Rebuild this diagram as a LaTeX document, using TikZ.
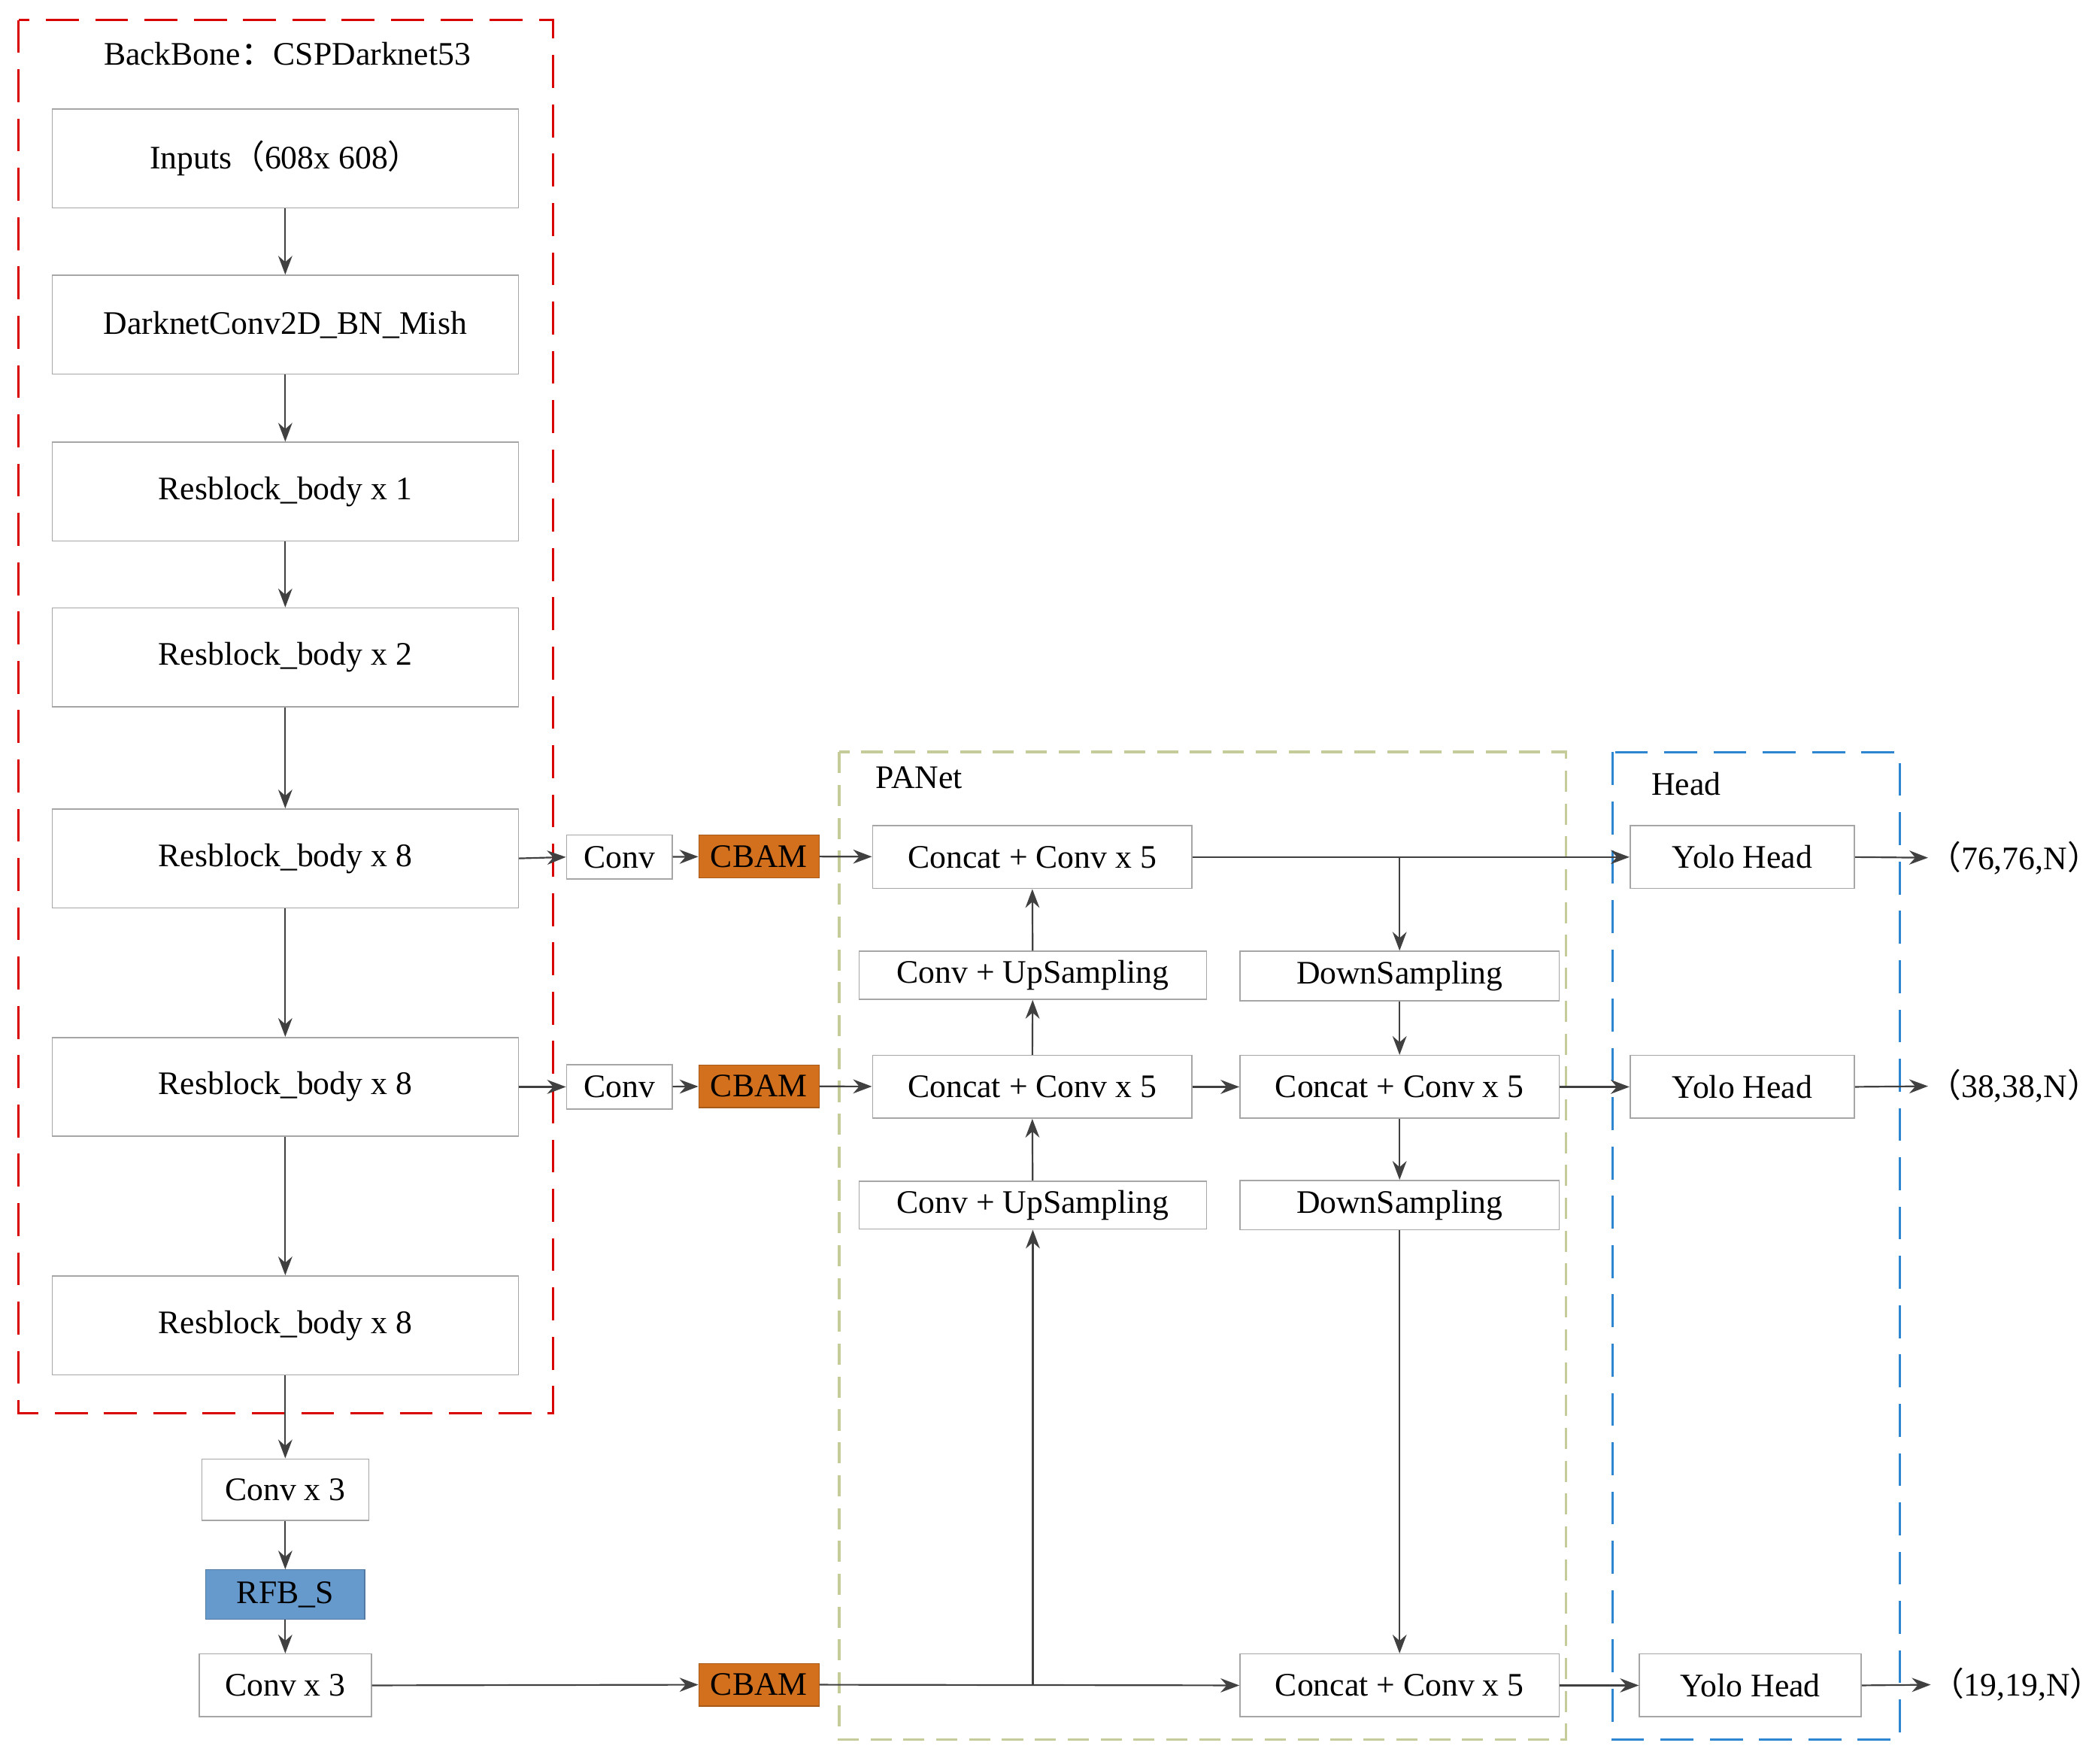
\documentclass[tikz,border=0pt]{standalone}
\usepackage{fontspec}
\setmainfont{Liberation Serif}
\newfontfamily\cjk{Noto Sans CJK SC}
\usetikzlibrary{arrows.meta}
\definecolor{cbamc}{HTML}{D2701E}
\definecolor{rfbc}{HTML}{6699CC}
\definecolor{panc}{HTML}{C5CC9A}
\definecolor{headc}{HTML}{2F86D0}
\begin{document}
\begin{tikzpicture}[x=0.02cm,y=-0.02cm,
  font=\fontsize{14}{16}\selectfont,
  box/.style={draw=black!35,line width=0.5pt,fill=white,inner sep=0pt},
  big/.style={box,minimum width=6.98cm,minimum height=1.48cm},
  cbam/.style={fill=cbamc,draw=cbamc!80!black,minimum width=1.8cm,minimum height=0.64cm,inner sep=0pt},
  cat/.style={box,minimum width=4.78cm,minimum height=0.94cm},
  arr/.style={draw=black!75,line width=0.7pt,-{Stealth[length=8pt,width=6pt]}},
  ln/.style={draw=black!75,line width=0.7pt}]
\useasboundingbox (0,0) rectangle (1568,1320);
% groups
\draw[red!85!black,dashed,dash pattern=on 14pt off 7pt,line width=1pt] (14,15) rectangle (414,1058);
\draw[panc,dashed,dash pattern=on 9pt off 5pt,line width=1.2pt] (628,563) rectangle (1172,1302);
\draw[headc,dashed,dash pattern=on 14pt off 7pt,line width=1pt] (1207,563) rectangle (1422,1302);
\node (tb) at (215,40) {BackBone{\cjk ：}CSPDarknet53};
\node (tp) at (688,582) {PANet};
\node (th) at (1262,587) {Head};
% backbone
\node[big] (inp) at (213.5,118.5) {Inputs{\cjk （}608x 608{\cjk ）}};
\node[big] (dark) at (213.5,243) {DarknetConv2D\_BN\_Mish};
\node[big] (r1) at (213.5,368) {Resblock\_body x 1};
\node[big] (r2) at (213.5,492) {Resblock\_body x 2};
\node[big] (r8a) at (213.5,642.5) {Resblock\_body x 8};
\node[big] (r8b) at (213.5,813.5) {Resblock\_body x 8};
\node[big] (r8c) at (213.5,992) {Resblock\_body x 8};
\node[box,minimum width=2.5cm,minimum height=0.92cm] (cx3a) at (213.5,1115) {Conv x 3};
\node[fill=rfbc,draw=rfbc!80!black,minimum width=2.38cm,minimum height=0.74cm,inner sep=0pt] (rfb) at (213.5,1193.5) {RFB\_S};
\node[box,minimum width=2.58cm,minimum height=0.94cm] (cx3b) at (213.5,1261.5) {Conv x 3};
\node[box,minimum width=1.58cm,minimum height=0.66cm] (conva) at (463.5,641.5) {Conv};
\node[box,minimum width=1.58cm,minimum height=0.66cm] (convb) at (463.5,813.5) {Conv};
\node[cbam] (cbama) at (568,641) {CBAM};
\node[cbam] (cbamb) at (568,813) {CBAM};
\node[cbam] (cbamc) at (568,1261) {CBAM};
% PANet
\node[cat] (cc1) at (772.5,641.5) {Concat + Conv x 5};
\node[box,minimum width=5.2cm,minimum height=0.72cm] (up1) at (773,730) {Conv + UpSampling};
\node[cat] (cc2) at (772.5,813.5) {Concat + Conv x 5};
\node[box,minimum width=5.2cm,minimum height=0.72cm] (up2) at (773,902) {Conv + UpSampling};
\node[box,minimum width=4.78cm,minimum height=0.74cm] (dn1) at (1047.5,730.5) {DownSampling};
\node[cat] (cc3) at (1047.5,813.5) {Concat + Conv x 5};
\node[box,minimum width=4.78cm,minimum height=0.74cm] (dn2) at (1047.5,902) {DownSampling};
\node[cat] (cc4) at (1047.5,1261.5) {Concat + Conv x 5};
% heads
\node[box,minimum width=3.36cm,minimum height=0.94cm] (y1) at (1304,641.5) {Yolo Head};
\node[box,minimum width=3.36cm,minimum height=0.94cm] (y2) at (1304,813.5) {Yolo Head};
\node[box,minimum width=3.32cm,minimum height=0.94cm] (y3) at (1310,1261.5) {Yolo Head};
\node[anchor=west,inner sep=0pt] (o1) at (1443,642) {{\cjk （}76,76,N{\cjk ）}\kern-0.5em};
\node[anchor=west,inner sep=0pt] (o2) at (1443,813) {{\cjk （}38,38,N{\cjk ）}\kern-0.5em};
\node[anchor=west,inner sep=0pt] (o3) at (1445,1261) {{\cjk （}19,19,N{\cjk ）}\kern-0.5em};
% arrows
\draw[arr] (inp) -- (dark);
\draw[arr] (dark) -- (r1);
\draw[arr] (r1) -- (r2);
\draw[arr] (r2) -- (r8a);
\draw[arr] (r8a) -- (r8b);
\draw[arr] (r8b) -- (r8c);
\draw[arr] (r8c) -- (cx3a);
\draw[arr] (cx3a) -- (rfb);
\draw[arr] (rfb) -- (cx3b);
\draw[arr] (r8a.east) -- (conva.west);
\draw[arr] (conva) -- (cbama);
\draw[arr] (cbama) -- (cc1);
\draw[arr] (r8b.east) -- (convb.west);
\draw[arr] (convb) -- (cbamb);
\draw[arr] (cbamb) -- (cc2);
\draw[arr] (cx3b.east) -- (cbamc.west);
\draw[arr] (cc1.east) -- (y1.west);
\coordinate (b1) at (1047.5,641.5);
\draw[arr] (b1) -- (dn1.north);
\draw[arr] (dn1) -- (cc3);
\draw[arr] (cc3) -- (dn2);
\draw[arr] (dn2) -- (cc4);
\draw[arr] (up1) -- (cc1);
\draw[arr] (cc2) -- (up1);
\draw[arr] (up2) -- (cc2);
\draw[arr] (cc2) -- (cc3);
\draw[arr] (cc3) -- (y2);
\draw[arr] (cbamc.east) -- (cc4.west);
\coordinate (j) at (773,1261);
\draw[arr] (j) -- (up2.south);
\draw[arr] (cc4.east) -- (y3.west);
\draw[arr] (y1.east) -- (o1.west);
\draw[arr] (y2.east) -- (o2.west);
\draw[arr] (y3.east) -- (o3.west);
\end{tikzpicture}
\end{document}
